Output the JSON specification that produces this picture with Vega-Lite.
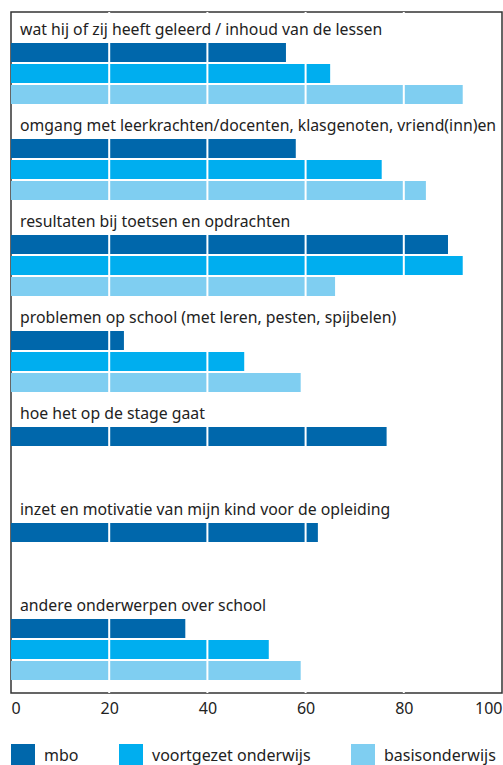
{
  "$schema": "https://vega.github.io/schema/vega-lite/v6.json",
  "width": 491,
  "height": 681,
  "autosize": {"type": "none"},
  "padding": {"left": 11, "top": 12, "right": 1, "bottom": 72},
  "config": {
    "font": "Noto Sans",
    "view": {"stroke": "#333333", "strokeWidth": 1.5}
  },
  "datasets": {
    "bars": [
      {"onderwerp": "wat hij of zij heeft geleerd / inhoud van de lessen", "schooltype": "mbo", "percentage": 56},
      {"onderwerp": "wat hij of zij heeft geleerd / inhoud van de lessen", "schooltype": "voortgezet onderwijs", "percentage": 65},
      {"onderwerp": "wat hij of zij heeft geleerd / inhoud van de lessen", "schooltype": "basisonderwijs", "percentage": 92},
      {"onderwerp": "omgang met leerkrachten/docenten, klasgenoten, vriend(inn)en", "schooltype": "mbo", "percentage": 58},
      {"onderwerp": "omgang met leerkrachten/docenten, klasgenoten, vriend(inn)en", "schooltype": "voortgezet onderwijs", "percentage": 75.5},
      {"onderwerp": "omgang met leerkrachten/docenten, klasgenoten, vriend(inn)en", "schooltype": "basisonderwijs", "percentage": 84.5},
      {"onderwerp": "resultaten bij toetsen en opdrachten", "schooltype": "mbo", "percentage": 89},
      {"onderwerp": "resultaten bij toetsen en opdrachten", "schooltype": "voortgezet onderwijs", "percentage": 92},
      {"onderwerp": "resultaten bij toetsen en opdrachten", "schooltype": "basisonderwijs", "percentage": 66},
      {"onderwerp": "problemen op school (met leren, pesten, spijbelen)", "schooltype": "mbo", "percentage": 23},
      {"onderwerp": "problemen op school (met leren, pesten, spijbelen)", "schooltype": "voortgezet onderwijs", "percentage": 47.5},
      {"onderwerp": "problemen op school (met leren, pesten, spijbelen)", "schooltype": "basisonderwijs", "percentage": 59},
      {"onderwerp": "hoe het op de stage gaat", "schooltype": "mbo", "percentage": 76.5},
      {"onderwerp": "inzet en motivatie van mijn kind voor de opleiding", "schooltype": "mbo", "percentage": 62.5},
      {"onderwerp": "andere onderwerpen over school", "schooltype": "mbo", "percentage": 35.5},
      {"onderwerp": "andere onderwerpen over school", "schooltype": "voortgezet onderwijs", "percentage": 52.5},
      {"onderwerp": "andere onderwerpen over school", "schooltype": "basisonderwijs", "percentage": 59}
    ],
    "grid": [{"waarde": 20}, {"waarde": 40}, {"waarde": 60}, {"waarde": 80}]
  },
  "layer": [
    {
      "data": {"name": "bars"},
      "mark": {"type": "bar"},
      "encoding": {
        "y": {
          "field": "onderwerp",
          "type": "nominal",
          "sort": null,
          "scale": {
            "domain": [
              "wat hij of zij heeft geleerd / inhoud van de lessen",
              "omgang met leerkrachten/docenten, klasgenoten, vriend(inn)en",
              "resultaten bij toetsen en opdrachten",
              "problemen op school (met leren, pesten, spijbelen)",
              "hoe het op de stage gaat",
              "inzet en motivatie van mijn kind voor de opleiding",
              "andere onderwerpen over school"
            ],
            "paddingInner": 0.3646,
            "paddingOuter": 0.229,
            "align": 0.705
          },
          "axis": null
        },
        "yOffset": {
          "field": "schooltype",
          "type": "nominal",
          "sort": null,
          "scale": {
            "domain": ["mbo", "voortgezet onderwijs", "basisonderwijs"],
            "paddingInner": 0.1,
            "paddingOuter": 0
          }
        },
        "x": {
          "field": "percentage",
          "type": "quantitative",
          "scale": {"domain": [0, 100], "nice": false},
          "axis": {
            "values": [0, 20, 40, 60, 80, 100],
            "ticks": false,
            "domain": false,
            "grid": false,
            "labelFlush": true,
            "labelFontSize": 16,
            "labelColor": "#222222",
            "labelPadding": 7,
            "title": null
          }
        },
        "color": {
          "field": "schooltype",
          "type": "nominal",
          "sort": null,
          "scale": {
            "domain": ["mbo", "voortgezet onderwijs", "basisonderwijs"],
            "range": ["#0067AB", "#00AEEF", "#7FCEF1"]
          },
          "legend": {
            "orient": "bottom",
            "direction": "horizontal",
            "title": null,
            "symbolType": "square",
            "symbolSize": 576,
            "symbolStrokeWidth": 0,
            "symbolOpacity": 1,
            "labelFontSize": 16,
            "labelColor": "#222222",
            "labelOffset": 9,
            "columnPadding": 40,
            "offset": 28,
            "padding": 0
          }
        }
      }
    },
    {
      "data": {"name": "grid"},
      "mark": {"type": "rule", "color": "white", "strokeWidth": 2},
      "encoding": {
        "x": {"field": "waarde", "type": "quantitative"}
      }
    },
    {
      "data": {"name": "bars"},
      "transform": [{"filter": "datum.schooltype === 'mbo'"}],
      "mark": {"type": "text", "align": "left", "baseline": "alphabetic", "dx": 9, "dy": -8, "fontSize": 15.8, "color": "#222222"},
      "encoding": {
        "y": {"field": "onderwerp", "type": "nominal", "bandPosition": 0},
        "x": {"datum": 0},
        "text": {"field": "onderwerp"}
      }
    }
  ]
}
